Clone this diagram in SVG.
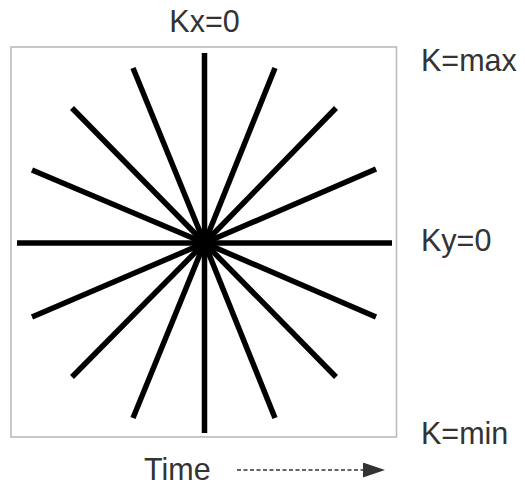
<svg xmlns="http://www.w3.org/2000/svg" width="525" height="486" viewBox="0 0 525 486">
<defs>
<style>
.lbl{font-family:"Liberation Sans",Arial,sans-serif;font-size:30.5px;fill:#333}
.ray{stroke:#000;stroke-width:5.5;stroke-linecap:butt}
</style>
<marker id="ah" viewBox="0 0 10 10" refX="0" refY="5" markerWidth="22" markerHeight="15" markerUnits="userSpaceOnUse" orient="auto" preserveAspectRatio="none">
<path d="M0,0 L10,5 L0,10 Z" fill="#333"/>
</marker>
</defs>
<rect width="525" height="486" fill="#fff"/>
<g id="frame">
<rect x="11" y="47" width="385.5" height="390" fill="none" stroke="#bbb" stroke-width="1.6"/>
</g>
<g id="rays">
<line class="ray" x1="204.5" y1="243" x2="204.5" y2="53"/>
<line class="ray" x1="204.5" y1="243" x2="204.5" y2="433"/>
<line class="ray" x1="204.5" y1="243" x2="17" y2="243"/>
<line class="ray" x1="204.5" y1="243" x2="392" y2="243"/>
<line class="ray" x1="204.5" y1="243" x2="133" y2="68"/>
<line class="ray" x1="204.5" y1="243" x2="275" y2="68"/>
<line class="ray" x1="204.5" y1="243" x2="72" y2="108"/>
<line class="ray" x1="204.5" y1="243" x2="336" y2="108"/>
<line class="ray" x1="204.5" y1="243" x2="32" y2="170"/>
<line class="ray" x1="204.5" y1="243" x2="376" y2="169"/>
<line class="ray" x1="204.5" y1="243" x2="32" y2="317"/>
<line class="ray" x1="204.5" y1="243" x2="376" y2="317"/>
<line class="ray" x1="204.5" y1="243" x2="72" y2="377"/>
<line class="ray" x1="204.5" y1="243" x2="336" y2="377"/>
<line class="ray" x1="204.5" y1="243" x2="133" y2="418"/>
<line class="ray" x1="204.5" y1="243" x2="275" y2="418"/>
<circle cx="204.5" cy="243" r="11" fill="#000"/>
</g>
<g id="labels">
<text class="lbl" x="204.5" y="32" text-anchor="middle">Kx=0</text>
<text class="lbl" x="421" y="71">K=max</text>
<text class="lbl" x="421" y="251">Ky=0</text>
<text class="lbl" x="421" y="444">K=min</text>
<text class="lbl" x="144" y="480">Time</text>
</g>
<g id="connectors">
<line x1="237" y1="470" x2="363" y2="470" stroke="#333" stroke-width="1.4" stroke-dasharray="4,2.5" marker-end="url(#ah)"/>
</g>
</svg>
